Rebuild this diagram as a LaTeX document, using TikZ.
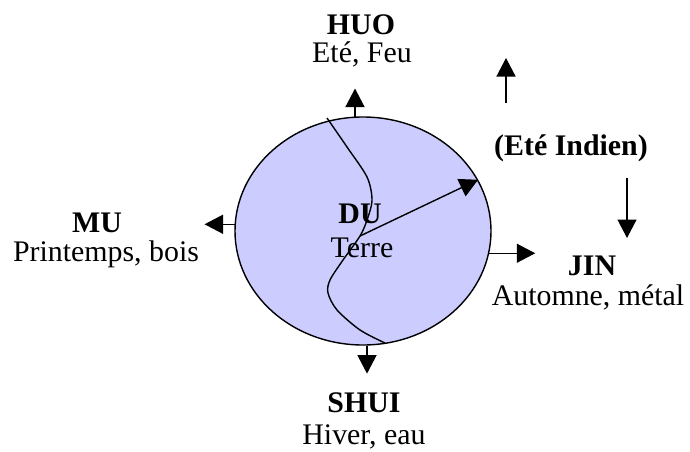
\documentclass[tikz,border=0pt]{standalone}
\usepackage{fontspec}
\setmainfont{Liberation Serif}
\usepackage{tikz}
\usetikzlibrary{positioning, arrows.meta, shapes.geometric, calc}

\definecolor{duviolet}{RGB}{204,204,255}

\begin{document}
\begin{tikzpicture}[x=0.2mm, y=-0.2mm, ->, >={Triangle[length=3.7mm, width=3.8mm]},
     line width=0.8pt,
     phase/.style={anchor=base, inner sep=0pt, font=\fontsize{17}{16}\selectfont\bfseries},
     element/.style={anchor=base, inner sep=0pt, font=\fontsize{17}{16}\selectfont}]

  \useasboundingbox (0,0) rectangle (690,451);

  \node[ellipse, draw, fill=duviolet, inner sep=0pt,
	minimum width=51.2mm,
	minimum height=45.6mm] (du) at (363,231) {};

  % labels round the circle
  \node[phase] (huo) at (361,35) {HUO};
  \node[element] (huotxt) at (362,63) {Eté, Feu};
  \node[phase] (mu) at (97,232) {MU};
  \node[element] (mutxt) at (106,261) {Printemps, bois};
  \node[phase] (jin) at (592,275) {JIN};
  \node[element] (jintxt) at (588,305) {Automne, métal};
  \node[phase] (shui) at (364,412) {SHUI};
  \node[element] (shuitxt) at (364,444) {Hiver, eau};
  \node[phase] (indien) at (571,155) {(Eté Indien)};
  \node[phase] (dulbl) at (360,223) {DU};
  \node[element] (dutxt) at (362,257) {Terre};

  \coordinate (core) at (360,236);
  \coordinate (upfrom) at (506,103);
  \coordinate (downfrom) at (627,178);

  \draw[-] plot[smooth] coordinates {(327,118) (347,147) (367,177) (372,200)
     (367,220) (core) (343,260) (330,280) (328,293) (337,310) (360,330) (385,343)};

  \draw (du.94) -- ++(0,-28);
  \draw (du.177) -- ++(-30,0);
  \draw (du.-10) -- ++(46,0);
  \draw (du.-88) -- ++(0,28);
  \draw (core) -- (du.24);
  \draw (upfrom) -- ++(0,-45);
  \draw (downfrom) -- ++(0,60);
\end{tikzpicture}
\end{document}
